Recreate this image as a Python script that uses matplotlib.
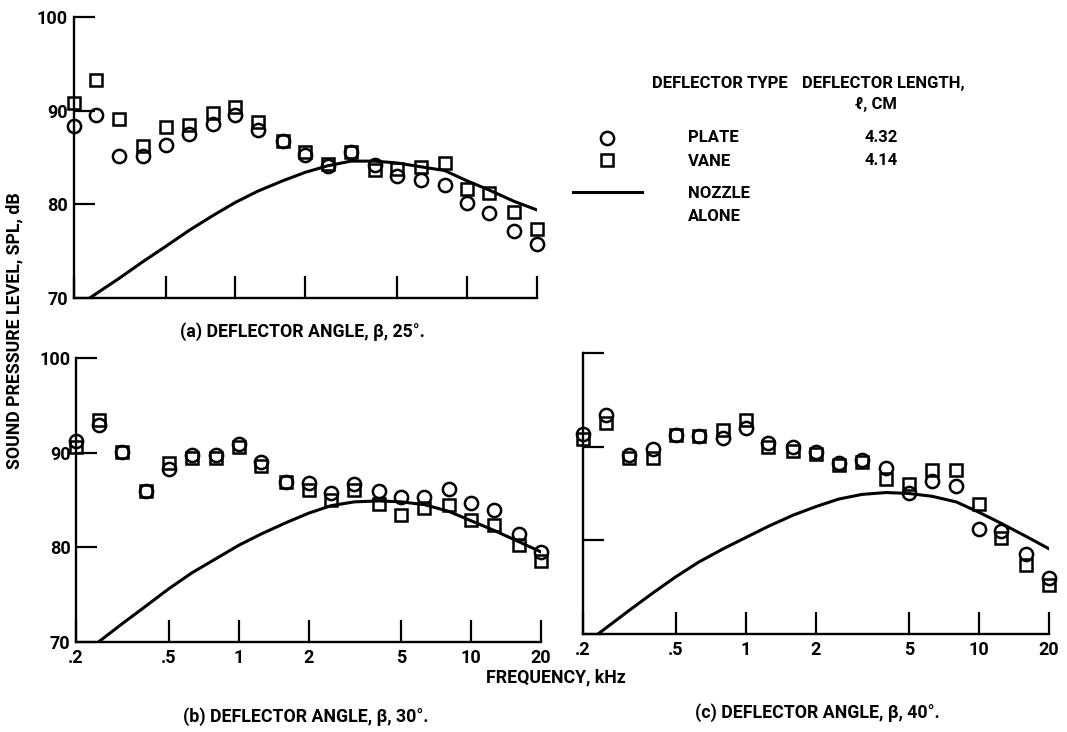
import matplotlib
matplotlib.use('Agg')
import matplotlib.pyplot as plt
from matplotlib.lines import Line2D
from matplotlib.ticker import NullLocator

plt.rcParams['font.family'] = ['Roboto', 'DejaVu Sans']
plt.rcParams['font.weight'] = 'bold'

# one-third octave band centre frequencies, kHz
freq = [0.2, 0.25, 0.315, 0.4, 0.5, 0.63, 0.8, 1.0, 1.25, 1.6, 2.0,
        2.5, 3.15, 4.0, 5.0, 6.3, 8.0, 10, 12.5, 16, 20]

# (a) beta = 25 deg
plate_a = [88.3, 89.5, 85.1, 85.1, 86.3, 87.5, 88.6, 89.5, 87.9, 86.7, 85.3,
           84.1, 85.6, 84.2, 83.0, 82.6, 82.1, 80.1, 79.1, 77.1, 75.8]
vane_a = [90.8, 93.3, 89.1, 86.2, 88.2, 88.5, 89.7, 90.4, 88.8, 86.7, 85.6,
          84.3, 85.6, 83.7, 83.8, 84.0, 84.4, 81.6, 81.2, 79.2, 77.4]

# (b) beta = 30 deg
plate_b = [91.2, 92.9, 90.1, 85.9, 88.3, 89.7, 89.8, 90.9, 89.0, 86.9, 86.8,
           85.7, 86.7, 85.9, 85.3, 85.3, 86.2, 84.7, 83.9, 81.4, 79.5]
vane_b = [90.6, 93.4, 90.1, 85.9, 88.9, 89.4, 89.4, 90.6, 88.6, 86.9, 86.0,
          85.0, 86.0, 84.6, 83.4, 84.2, 84.5, 82.9, 82.4, 80.2, 78.5]

# (c) beta = 40 deg
plate_c = [91.3, 93.4, 89.1, 89.8, 91.2, 91.1, 90.9, 92.0, 90.4, 90.0, 89.4,
           88.3, 88.6, 87.7, 85.1, 86.3, 85.8, 81.2, 81.0, 78.5, 76.0]
vane_c = [90.8, 92.5, 88.8, 88.8, 91.2, 91.1, 91.8, 92.8, 90.0, 89.5, 89.2,
          88.0, 88.4, 86.5, 86.0, 87.5, 87.5, 83.9, 80.2, 77.4, 75.2]

# nozzle alone curves
nozzle_fa = [0.235, 0.315, 0.4, 0.5, 0.63, 0.8, 1.0, 1.25, 1.6, 2.0, 2.5,
             3.15, 4.0, 5.0, 6.3, 8.0, 10, 12.5, 16, 20]
nozzle_a = [70.0, 72.1, 73.9, 75.5, 77.2, 78.8, 80.2, 81.4, 82.5, 83.4, 84.1,
            84.6, 84.6, 84.4, 84.0, 83.6, 82.5, 81.5, 80.3, 79.4]
nozzle_fb = [0.25, 0.315, 0.4, 0.5, 0.63, 0.8, 1.0, 1.25, 1.6, 2.0, 2.5,
             3.15, 4.0, 5.0, 6.3, 8.0, 10, 12.5, 16, 20]
nozzle_b = [70.0, 71.9, 73.8, 75.6, 77.3, 78.8, 80.2, 81.4, 82.6, 83.6, 84.4,
            84.8, 84.9, 84.8, 84.5, 83.8, 82.8, 81.8, 80.6, 79.5]
nozzle_fc = [0.232, 0.315, 0.4, 0.5, 0.63, 0.8, 1.0, 1.25, 1.6, 2.0, 2.5,
             3.15, 4.0, 5.0, 6.3, 8.0, 10, 12.5, 16, 20]
nozzle_c = [70.0, 72.5, 74.4, 76.1, 77.7, 79.1, 80.3, 81.5, 82.7, 83.6, 84.4,
            84.9, 85.1, 85.0, 84.7, 84.1, 83.0, 81.8, 80.4, 79.1]

xticks = [0.2, 0.5, 1, 2, 5, 10, 20]
xtick_labels = ['.2', '.5', '1', '2', '5', '10', '20']
yticks = [70, 80, 90, 100]
ytick_labels = ['70', '80', '90', '100']

fig = plt.figure(figsize=(10.67, 7.32), dpi=100)


def panel(rect, plate, vane, nf, nv, xlab, ylab):
    ax = fig.add_axes(rect)
    ax.set_xscale('log')
    ax.plot(nf, nv, 'k-', lw=2.2)
    ax.plot(freq, plate, 'o', ms=9.5, mfc='none', mec='k', mew=1.8, clip_on=False)
    ax.plot(freq, vane, 's', ms=8.5, mfc='none', mec='k', mew=1.8, clip_on=False)
    ax.set_xlim(0.2, 20)
    ax.set_ylim(70, 100)
    for s in ['top', 'right']:
        ax.spines[s].set_visible(False)
    for s in ['left', 'bottom']:
        ax.spines[s].set_linewidth(1.7)
    ax.set_xticks(xticks)
    ax.set_xticklabels(xtick_labels)
    ax.xaxis.set_minor_locator(NullLocator())
    ax.set_yticks(yticks)
    ax.set_yticklabels(ytick_labels)
    ax.tick_params(axis='x', direction='in', length=16, width=1.6, pad=5,
                   labelsize=13, labelbottom=xlab)
    ax.tick_params(axis='y', direction='in', length=15, width=1.6, pad=4,
                   labelsize=13, labelleft=ylab)
    return ax


ax_a = panel([0.069, 0.593, 0.434, 0.384], plate_a, vane_a, nozzle_fa, nozzle_a, False, True)
ax_b = panel([0.0712, 0.123, 0.436, 0.388], plate_b, vane_b, nozzle_fb, nozzle_b, True, True)
ax_c = panel([0.5464, 0.1339, 0.4367, 0.3839], plate_c, vane_c, nozzle_fc, nozzle_c, True, False)

fs = 12.8
fig.text(0.283, 0.5464, '(a) DEFLECTOR ANGLE, β, 25°.', ha='center', va='center', fontsize=fs)
fig.text(0.2868, 0.0205, '(b) DEFLECTOR ANGLE, β, 30°.', ha='center', va='center', fontsize=fs)
fig.text(0.7657, 0.026, '(c) DEFLECTOR ANGLE, β, 40°.', ha='center', va='center', fontsize=fs)
fig.text(0.521, 0.0751, 'FREQUENCY, kHz', ha='center', va='center', fontsize=fs)
fig.text(0.0131, 0.549, 'SOUND PRESSURE LEVEL, SPL, dB', ha='center', va='center',
         rotation=90, fontsize=fs)

# legend block
lfs = 12
fig.text(0.611, 0.8866, 'DEFLECTOR TYPE', ha='left', va='center', fontsize=lfs)
fig.text(0.7516, 0.8866, 'DEFLECTOR LENGTH,', ha='left', va='center', fontsize=lfs)
fig.text(0.8013, 0.8566, 'ℓ, CM', ha='left', va='center', fontsize=lfs)
fig.add_artist(Line2D([0.5689], [0.8115], marker='o', ms=9.5, mfc='none', mec='k',
                      mew=1.8, transform=fig.transFigure))
fig.add_artist(Line2D([0.5689], [0.7814], marker='s', ms=8.5, mfc='none', mec='k',
                      mew=1.8, transform=fig.transFigure))
fig.add_artist(Line2D([0.537, 0.6017], [0.7377, 0.7377], color='k', lw=2.2,
                      transform=fig.transFigure))
fig.text(0.6448, 0.8115, 'PLATE', ha='left', va='center', fontsize=lfs)
fig.text(0.8107, 0.8125, '4.32', ha='left', va='center', fontsize=lfs)
fig.text(0.6448, 0.780, 'VANE', ha='left', va='center', fontsize=lfs)
fig.text(0.8107, 0.7814, '4.14', ha='left', va='center', fontsize=lfs)
fig.text(0.6448, 0.7363, 'NOZZLE', ha='left', va='center', fontsize=lfs)
fig.text(0.6448, 0.7036, 'ALONE', ha='left', va='center', fontsize=lfs)

fig.savefig('out.png', dpi=100)
